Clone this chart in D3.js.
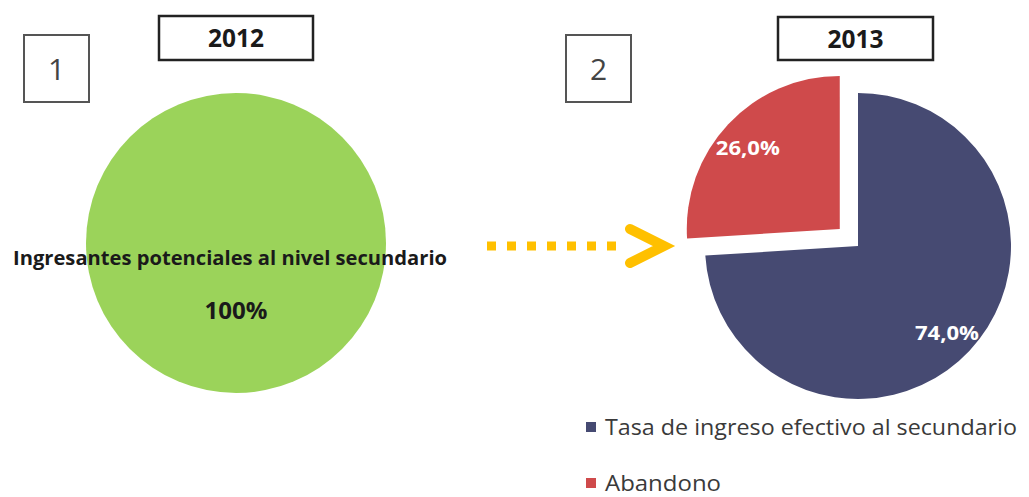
<!DOCTYPE html>
<html><head><meta charset="utf-8">
<script src="https://cdn.jsdelivr.net/npm/d3@7"></script>
<style>body{margin:0;background:#fff}svg{display:block}</style>
</head><body>
<svg id="c" width="1029" height="497"></svg>
<script>
const years = ["2012", "2013"];
const panelNumbers = ["1", "2"];
const pie2012Labels = ["Ingresantes potenciales al nivel secundario"];
const pie2012Values = [100];
const pie2013Labels = ["Tasa de ingreso efectivo al secundario", "Abandono"];
const pie2013Values = [74.0, 26.0];
const colors2012 = ["#9BD35A"];
const colors2013 = ["#464A72", "#CF4A4B"];

const svg = d3.select("#c");
const fmt = v => d3.format(".1f")(v).replace(".", ",") + "%";

// panel number boxes
const numBoxes = [{x:24,y:35,w:65,h:67},{x:566,y:35,w:65,h:67}];
numBoxes.forEach((b,i)=>{
  svg.append("rect").attr("x",b.x).attr("y",b.y).attr("width",b.w).attr("height",b.h)
    .attr("fill","#fff").attr("stroke","#555").attr("stroke-width",2);
  svg.append("text").attr("x",b.x+b.w/2).attr("y",b.y+b.h/2+11).attr("text-anchor","middle")
    .attr("font-family","Open Sans, sans-serif").attr("font-size",30).attr("fill","#444")
    .text(panelNumbers[i]);
});
// year boxes
const yearBoxes = [{x:159,y:16,w:154,h:44},{x:778,y:17,w:155,h:43}];
yearBoxes.forEach((b,i)=>{
  svg.append("rect").attr("x",b.x).attr("y",b.y).attr("width",b.w).attr("height",b.h)
    .attr("fill","#fff").attr("stroke","#222").attr("stroke-width",2.5);
  svg.append("text").attr("x",b.x+b.w/2).attr("y",b.y+b.h/2+9).attr("text-anchor","middle")
    .attr("font-family","Open Sans, sans-serif").attr("font-weight","bold").attr("font-size",25).attr("fill","#1a1a1a")
    .attr("textLength",56).attr("lengthAdjust","spacingAndGlyphs")
    .text(years[i]);
});

// 2012 pie
const pie = d3.pie().sort(null).startAngle(0).endAngle(2*Math.PI);
const r1 = 150;
const g1 = svg.append("g").attr("transform","translate(236,243)");
const arc1 = d3.arc().innerRadius(0).outerRadius(r1);
g1.selectAll("path").data(pie(pie2012Values)).join("path")
  .attr("d",arc1).attr("fill",(d,i)=>colors2012[i]);
g1.append("text").attr("x",-6).attr("y",22).attr("text-anchor","middle")
  .attr("font-family","Open Sans, sans-serif").attr("font-weight","bold").attr("font-size",20)
  .attr("textLength",434).attr("lengthAdjust","spacingAndGlyphs").attr("fill","#1a1a1a")
  .text(pie2012Labels[0]);
g1.append("text").attr("x",0).attr("y",76).attr("text-anchor","middle")
  .attr("font-family","Open Sans, sans-serif").attr("font-weight","bold").attr("font-size",23).attr("fill","#1a1a1a")
  .attr("textLength",63).attr("lengthAdjust","spacingAndGlyphs")
  .text(fmt(pie2012Values[0]).replace(",0",""));

// arrow
const ag = svg.append("g");
ag.append("line").attr("x1",487).attr("y1",246).attr("x2",625).attr("y2",246)
  .attr("stroke","#FFC000").attr("stroke-width",9).attr("stroke-dasharray","9,11");
ag.append("path").attr("d","M630,229 L664,246 L630,263").attr("fill","none")
  .attr("stroke","#FFC000").attr("stroke-width",10).attr("stroke-linecap","round").attr("stroke-linejoin","miter");

// 2013 pie
const r2 = 153;
const cx2 = 858, cy2 = 246;
const g2 = svg.append("g").attr("transform",`translate(${cx2},${cy2})`);
const arc2 = d3.arc().innerRadius(0).outerRadius(r2);
const explode = [0, 25];
const arcs2 = pie(pie2013Values);
const sl = g2.selectAll("g.sl").data(arcs2).join("g").attr("class","sl")
  .attr("transform",(d,i)=>{
    const a = (d.startAngle+d.endAngle)/2;
    return `translate(${Math.sin(a)*explode[i]},${-Math.cos(a)*explode[i]})`;
  });
sl.append("path").attr("d",arc2).attr("fill",(d,i)=>colors2013[i]);
const labelOffsets = [[89,94],[-92,-74]];
sl.append("text").attr("text-anchor","middle")
  .attr("transform",(d,i)=>`translate(${labelOffsets[i][0]},${labelOffsets[i][1]})`)
  .attr("font-family","Open Sans, sans-serif").attr("font-weight","bold").attr("font-size",19).attr("fill","#fff")
  .attr("textLength",64).attr("lengthAdjust","spacingAndGlyphs")
  .text(d=>fmt(d.data));

// legend
const lg = svg.append("g");
pie2013Labels.forEach((t,i)=>{
  const y = 435 + i*56;
  lg.append("rect").attr("x",586).attr("y",y-13).attr("width",10).attr("height",10).attr("fill",colors2013[i]);
  lg.append("text").attr("x",605).attr("y",y).attr("font-family","Open Sans, sans-serif")
    .attr("font-size",21).attr("fill","#3a3a3a")
    .attr("textLength", i===0 ? 412 : 116).attr("lengthAdjust","spacingAndGlyphs")
    .text(t);
});
</script>
</body></html>
